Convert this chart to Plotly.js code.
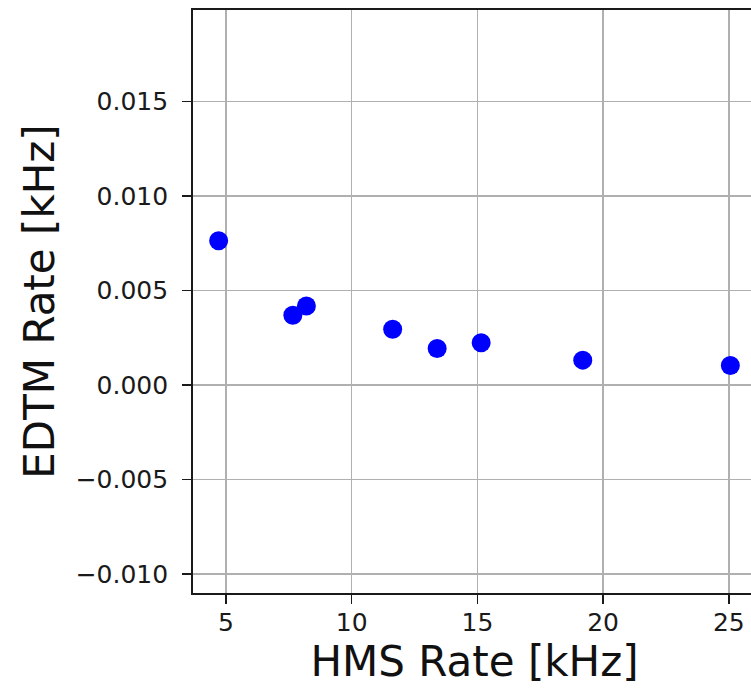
<!DOCTYPE html>
<html>
<head>
<meta charset="utf-8">
<script src="https://cdn.plot.ly/plotly-3.0.1.min.js"></script>
<style>
html, body { margin: 0; padding: 0; overflow: hidden; background: #fff; }
#chart { width: 800px; height: 689px; }
</style>
</head>
<body>
<div id="chart"></div>
<script>
// HMS rate [kHz] and EDTM rate [kHz]
const hmsRate = [4.71, 7.66, 8.20, 11.63, 13.40, 15.15, 19.19, 25.06];
const edtmRate = [0.00763, 0.00369, 0.00418, 0.00295, 0.00194, 0.00224, 0.00132, 0.00104];
const xTicks = [5, 10, 15, 20, 25];
const yTicks = [-0.010, -0.005, 0.000, 0.005, 0.010, 0.015];
const xTitle = 'HMS Rate [kHz]';
const yTitle = 'EDTM Rate [kHz]';

const font = 'DejaVu Sans, sans-serif';

const trace = {
  x: hmsRate,
  y: edtmRate,
  type: 'scatter',
  mode: 'markers',
  marker: { color: '#0000ff', size: 19, line: { width: 0 } },
  cliponaxis: false,
  showlegend: false
};

const axisCommon = {
  showline: true,
  mirror: true,
  linecolor: '#1a1a1a',
  linewidth: 1.8,
  showgrid: true,
  gridcolor: '#b0b0b0',
  gridwidth: 1.6,
  zeroline: false,
  ticks: 'outside',
  ticklen: 9,
  tickwidth: 1.6,
  tickcolor: '#1a1a1a',
  tickfont: { family: font, size: 25, color: '#1a1a1a' },
  title: { font: { family: font, size: 42, color: '#111' } }
};

const layout = {
  width: 800,
  height: 689,
  margin: { l: 193, r: 44, t: 10, b: 96 },
  paper_bgcolor: '#ffffff',
  plot_bgcolor: '#ffffff',
  xaxis: Object.assign({}, axisCommon, {
    range: [3.69, 26.08],
    tickmode: 'array',
    tickvals: xTicks,
    ticktext: xTicks.map(String),
    ticklabelstandoff: -3,
    title: { text: xTitle, font: axisCommon.title.font, standoff: 4 }
  }),
  yaxis: Object.assign({}, axisCommon, {
    range: [-0.01099, 0.01983],
    tickmode: 'array',
    tickvals: yTicks,
    ticktext: yTicks.map(v => (v < 0 ? '\u2212' : '') + Math.abs(v).toFixed(3)),
    ticklabelstandoff: 9,
    title: { text: yTitle, font: axisCommon.title.font, standoff: 8 }
  })
};

Plotly.newPlot('chart', [trace], layout, { staticPlot: true, displayModeBar: false });
</script>
</body>
</html>
